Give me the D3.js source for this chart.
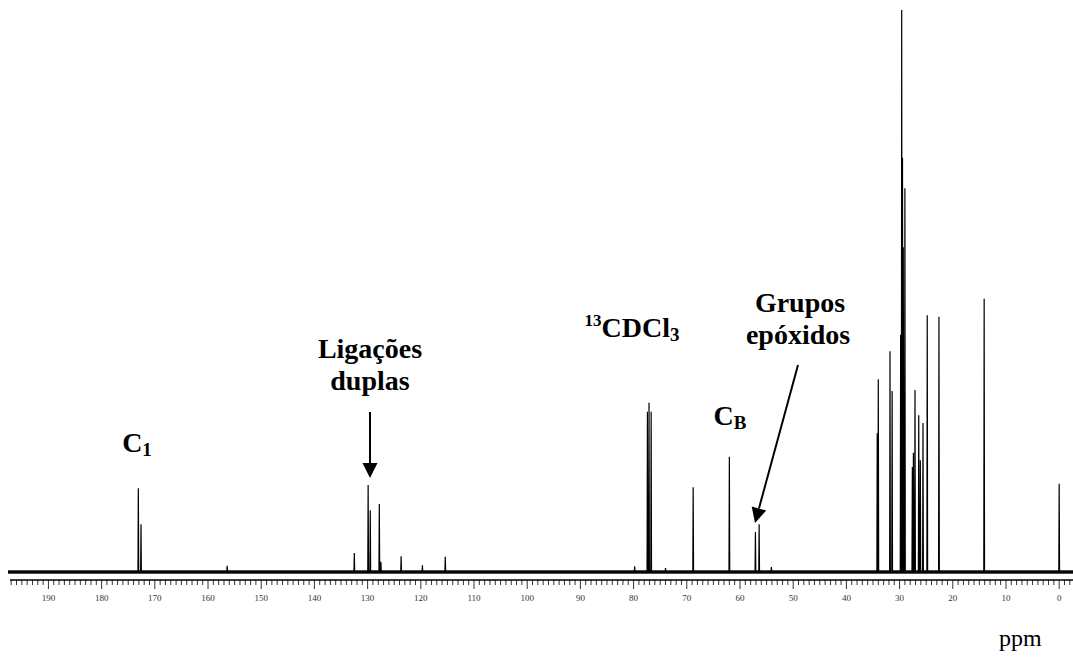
<!DOCTYPE html>
<html>
<head>
<meta charset="utf-8">
<script src="https://cdn.jsdelivr.net/npm/d3@7"></script>
<style>
  html, body { margin: 0; padding: 0; background: #fff; }
  svg { display: block; }
  text { font-family: "Liberation Serif", "Times New Roman", serif; }
</style>
</head>
<body>
<svg id="chart" width="1073" height="660"></svg>
<script>
// ---- data (chemical shift in ppm, relative intensity) ----
const peakPpm = [
  173.1, 172.6, 156.4,
  132.5, 129.9, 129.5, 127.8, 127.5, 123.7, 119.7, 115.4,
  79.8, 77.4, 77.1, 76.7, 74.0,
  68.8, 62.0, 57.1, 56.4, 54.1,
  34.2, 34.0, 31.8, 31.4, 29.8, 29.6, 29.45, 29.3, 29.0,
  27.6, 27.4, 27.1, 26.4, 26.1, 25.6, 24.8, 22.6,
  14.1, 0.0
];
const peakIntensity = [
  14.9, 8.5, 1.1,
  3.4, 15.5, 11.0, 12.1, 1.8, 2.8, 1.2, 2.7,
  1.0, 28.5, 30.1, 28.5, 0.7,
  15.1, 20.5, 7.1, 8.5, 0.9,
  24.7, 34.3, 39.3, 32.2, 42.2, 100, 73.7, 57.8, 68.3,
  18.7, 21.2, 32.4, 27.9, 19.9, 26.5, 45.7, 45.4,
  48.6, 15.7
];
const tickLabels = [190, 180, 170, 160, 150, 140, 130, 120, 110, 100, 90, 80, 70, 60, 50, 40, 30, 20, 10, 0];
const ppmRange = [197.6, -2.6];

// ---- scales ----
const svg = d3.select("#chart");
const x = d3.scaleLinear().domain(ppmRange).range([8, 1073]);
const y = d3.scaleLinear().domain([0, 100]).range([572, 10]);

// ---- spectrum path built from peak list ----
const halfW = 0.07;
const peaks = peakPpm.map((p, i) => ({ p, h: peakIntensity[i] }))
  .sort((a, b) => b.p - a.p);
const pts = [[ppmRange[0], 0]];
peaks.forEach(d => {
  pts.push([d.p + halfW, 0], [d.p, d.h], [d.p - halfW, 0]);
});
pts.push([ppmRange[1], 0]);

// noisy baseline band
svg.append("line")
  .attr("x1", x(ppmRange[0])).attr("x2", x(ppmRange[1]))
  .attr("y1", y(0)).attr("y2", y(0))
  .attr("stroke", "#111").attr("stroke-width", 3.4);

svg.append("path")
  .datum(pts)
  .attr("fill", "none")
  .attr("stroke", "#000")
  .attr("stroke-width", 1.2)
  .attr("d", d3.line().x(d => x(d[0])).y(d => y(d[1])));

// ---- axis ----
const axisY = 580;
const axisG = svg.append("g").attr("transform", `translate(0,${axisY})`);
axisG.append("line")
  .attr("x1", 10).attr("x2", 1073).attr("y1", 0).attr("y2", 0)
  .attr("stroke", "#000").attr("stroke-width", 1.3);
const minorTicks = d3.range(197, -3, -1);
axisG.selectAll("line.minor").data(minorTicks).join("line")
  .attr("class", "minor")
  .attr("x1", d => x(d)).attr("x2", d => x(d))
  .attr("y1", 0).attr("y2", d => (d % 10 === 0 ? 9 : 5))
  .attr("stroke", "#000").attr("stroke-width", 0.8);
axisG.selectAll("text.tl").data(tickLabels).join("text")
  .attr("class", "tl")
  .attr("x", d => x(d)).attr("y", 21)
  .attr("text-anchor", "middle")
  .attr("font-size", 9)
  .attr("fill", "#333")
  .text(d => d);

// ---- annotations ----
function label(cx, by, size, build) {
  const t = svg.append("text")
    .attr("transform", `translate(${cx},${by})`)
    .attr("text-anchor", "middle")
    .attr("font-size", size)
    .attr("font-weight", "bold")
    .attr("fill", "#000");
  build(t);
  return t;
}
label(137, 452, 28, t => {
  t.append("tspan").text("C");
  t.append("tspan").attr("font-size", 19).attr("dy", 4).text("1");
});
label(370, 358, 28, t => t.text("Ligações"));
label(370, 390, 28, t => t.text("duplas"));
label(632, 337, 28, t => {
  t.append("tspan").attr("font-size", 17).attr("dy", -11).text("13");
  t.append("tspan").attr("dy", 11).text("CDCl");
  t.append("tspan").attr("font-size", 19).attr("dy", 4).text("3");
});
label(730, 425, 28, t => {
  t.append("tspan").text("C");
  t.append("tspan").attr("font-size", 19).attr("dy", 4).text("B");
});
label(800, 312, 28, t => t.text("Grupos"));
label(798, 344, 28, t => t.text("epóxidos"));

svg.append("text")
  .attr("x", 999).attr("y", 646)
  .attr("font-size", 24)
  .attr("fill", "#000")
  .text("ppm");

// arrows
function arrow(x1, y1, x2, y2) {
  const ang = Math.atan2(y2 - y1, x2 - x1);
  const L = 15, W = 7.5;
  const bx = x2 - L * Math.cos(ang), by = y2 - L * Math.sin(ang);
  svg.append("line")
    .attr("x1", x1).attr("y1", y1).attr("x2", bx).attr("y2", by)
    .attr("stroke", "#000").attr("stroke-width", 2);
  const px = -Math.sin(ang), py = Math.cos(ang);
  svg.append("path")
    .attr("d", `M${x2},${y2}L${bx + W * px},${by + W * py}L${bx - W * px},${by - W * py}Z`)
    .attr("fill", "#000");
}
arrow(370, 412, 370, 478);
arrow(798, 365, 755, 523);
</script>
</body>
</html>
